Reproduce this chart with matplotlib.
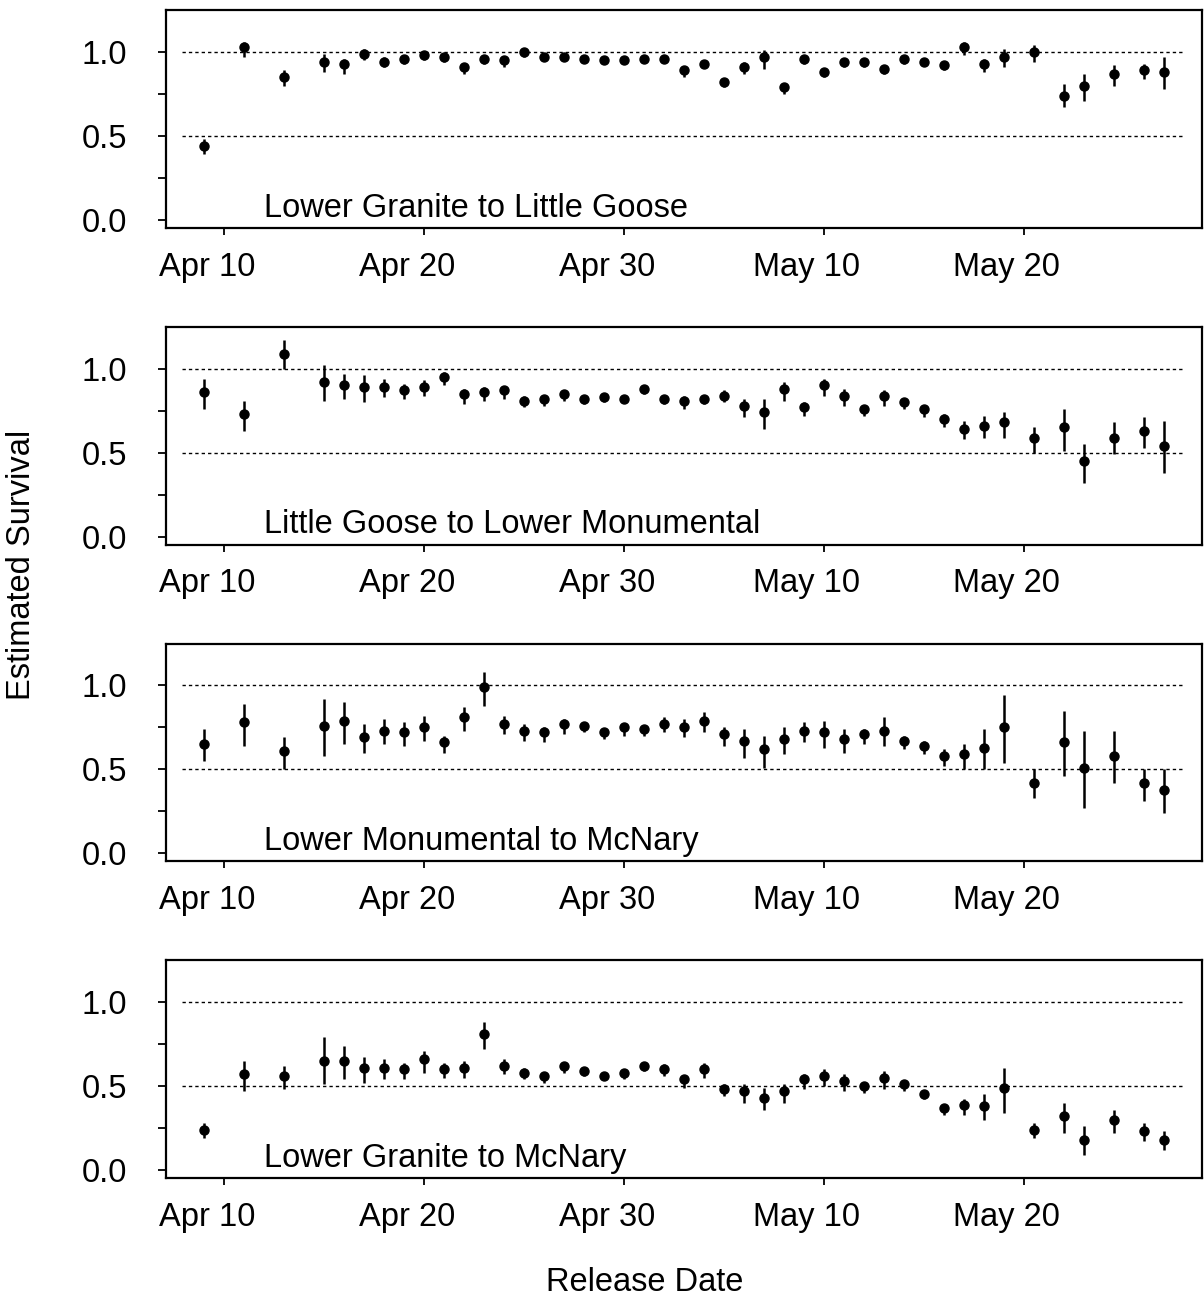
import matplotlib
matplotlib.use("Agg")
import matplotlib.pyplot as plt

plt.rcParams['font.family'] = ['Liberation Sans', 'DejaVu Sans']
plt.rcParams['lines.scale_dashes'] = False

# release day, counted from April 1 (May 10 = 40)
days = [9, 11, 13, 15, 16, 17, 18, 19, 20, 21, 22, 23, 24, 25, 26, 27, 28, 29, 30, 31, 32,
        33, 34, 35, 36, 37, 38, 39, 40, 41, 42, 43, 44, 45, 46, 47, 48, 49, 50.5, 52, 53, 54.5, 56, 57]

tick_days = [10, 20, 30, 40, 50]
tick_labels = ['Apr 10', 'Apr 20', 'Apr 30', 'May 10', 'May 20']

# Lower Granite to Little Goose
lgr_lgo_est = [0.44, 1.03, 0.85, 0.94, 0.93, 0.99, 0.94, 0.96, 0.98, 0.97, 0.91, 0.96, 0.95, 1.00, 0.97,
               0.97, 0.96, 0.95, 0.95, 0.96, 0.96, 0.89, 0.93, 0.82, 0.91, 0.97, 0.79, 0.96, 0.88, 0.94,
               0.94, 0.90, 0.96, 0.94, 0.92, 1.03, 0.93, 0.97, 1.00, 0.74, 0.80, 0.87, 0.89, 0.88]
lgr_lgo_lo = [0.39, 0.97, 0.80, 0.88, 0.87, 0.95, 0.91, 0.93, 0.95, 0.94, 0.87, 0.93, 0.91, 0.97, 0.95,
              0.95, 0.94, 0.93, 0.93, 0.94, 0.94, 0.85, 0.91, 0.79, 0.87, 0.90, 0.75, 0.93, 0.85, 0.91,
              0.91, 0.87, 0.93, 0.92, 0.89, 0.98, 0.88, 0.91, 0.94, 0.67, 0.71, 0.80, 0.84, 0.78]
lgr_lgo_hi = [0.48, 1.06, 0.89, 0.99, 0.96, 1.02, 0.97, 0.98, 1.00, 0.99, 0.93, 0.98, 0.97, 1.02, 0.99,
              0.99, 0.98, 0.97, 0.97, 0.98, 0.98, 0.91, 0.95, 0.84, 0.94, 1.01, 0.81, 0.97, 0.90, 0.96,
              0.96, 0.92, 0.97, 0.96, 0.94, 1.06, 0.96, 1.02, 1.04, 0.81, 0.87, 0.92, 0.93, 0.97]

# Little Goose to Lower Monumental
lgo_lmn_est = [0.86, 0.73, 1.09, 0.92, 0.90, 0.89, 0.89, 0.87, 0.89, 0.95, 0.85, 0.86, 0.87, 0.81, 0.82,
               0.85, 0.82, 0.83, 0.82, 0.88, 0.82, 0.81, 0.82, 0.84, 0.78, 0.74, 0.88, 0.77, 0.90, 0.84,
               0.76, 0.84, 0.80, 0.76, 0.70, 0.64, 0.66, 0.68, 0.59, 0.65, 0.45, 0.59, 0.63, 0.54]
lgo_lmn_lo = [0.76, 0.63, 1.00, 0.81, 0.82, 0.80, 0.83, 0.82, 0.84, 0.90, 0.79, 0.81, 0.82, 0.77, 0.78,
              0.81, 0.79, 0.80, 0.80, 0.85, 0.79, 0.76, 0.79, 0.80, 0.71, 0.64, 0.81, 0.72, 0.84, 0.78,
              0.72, 0.78, 0.76, 0.71, 0.65, 0.58, 0.59, 0.59, 0.50, 0.51, 0.32, 0.49, 0.53, 0.38]
lgo_lmn_hi = [0.94, 0.81, 1.17, 1.02, 0.97, 0.96, 0.94, 0.91, 0.93, 0.98, 0.88, 0.89, 0.89, 0.84, 0.84,
              0.87, 0.84, 0.85, 0.84, 0.90, 0.84, 0.84, 0.84, 0.87, 0.82, 0.82, 0.92, 0.80, 0.94, 0.88,
              0.78, 0.87, 0.82, 0.78, 0.73, 0.69, 0.72, 0.74, 0.65, 0.76, 0.55, 0.68, 0.71, 0.69]

# Lower Monumental to McNary
lmn_mcn_est = [0.65, 0.78, 0.61, 0.76, 0.79, 0.69, 0.73, 0.72, 0.75, 0.66, 0.81, 0.99, 0.77, 0.73, 0.72,
               0.77, 0.76, 0.72, 0.75, 0.74, 0.77, 0.75, 0.79, 0.71, 0.67, 0.62, 0.68, 0.73, 0.72, 0.68,
               0.71, 0.73, 0.67, 0.64, 0.58, 0.59, 0.63, 0.75, 0.42, 0.66, 0.51, 0.58, 0.42, 0.38]
lmn_mcn_lo = [0.55, 0.64, 0.50, 0.58, 0.65, 0.60, 0.65, 0.64, 0.67, 0.60, 0.73, 0.88, 0.71, 0.67, 0.66,
              0.71, 0.72, 0.68, 0.70, 0.70, 0.72, 0.69, 0.72, 0.64, 0.57, 0.51, 0.59, 0.66, 0.63, 0.60,
              0.65, 0.64, 0.62, 0.59, 0.52, 0.50, 0.50, 0.54, 0.33, 0.46, 0.27, 0.42, 0.31, 0.24]
lmn_mcn_hi = [0.74, 0.89, 0.69, 0.92, 0.90, 0.77, 0.80, 0.78, 0.82, 0.70, 0.87, 1.08, 0.82, 0.77, 0.75,
              0.80, 0.78, 0.74, 0.77, 0.76, 0.81, 0.80, 0.84, 0.75, 0.74, 0.70, 0.75, 0.78, 0.79, 0.74,
              0.74, 0.81, 0.70, 0.67, 0.62, 0.65, 0.74, 0.94, 0.50, 0.85, 0.73, 0.73, 0.50, 0.50]

# Lower Granite to McNary
lgr_mcn_est = [0.24, 0.57, 0.56, 0.65, 0.65, 0.61, 0.61, 0.60, 0.66, 0.60, 0.61, 0.81, 0.62, 0.58, 0.56,
               0.62, 0.59, 0.56, 0.58, 0.62, 0.60, 0.54, 0.60, 0.48, 0.47, 0.43, 0.47, 0.54, 0.56, 0.53,
               0.50, 0.55, 0.51, 0.45, 0.37, 0.39, 0.38, 0.49, 0.24, 0.32, 0.18, 0.30, 0.23, 0.18]
lgr_mcn_lo = [0.19, 0.47, 0.48, 0.51, 0.54, 0.52, 0.54, 0.54, 0.58, 0.55, 0.55, 0.72, 0.57, 0.54, 0.52,
              0.58, 0.56, 0.54, 0.54, 0.59, 0.56, 0.49, 0.55, 0.44, 0.40, 0.36, 0.40, 0.48, 0.50, 0.47,
              0.46, 0.48, 0.47, 0.42, 0.33, 0.33, 0.30, 0.34, 0.19, 0.22, 0.09, 0.22, 0.17, 0.12]
lgr_mcn_hi = [0.28, 0.65, 0.62, 0.79, 0.74, 0.67, 0.66, 0.64, 0.71, 0.64, 0.65, 0.88, 0.66, 0.61, 0.58,
              0.64, 0.61, 0.58, 0.60, 0.64, 0.63, 0.56, 0.64, 0.51, 0.51, 0.49, 0.51, 0.57, 0.60, 0.57,
              0.52, 0.59, 0.53, 0.47, 0.39, 0.42, 0.45, 0.61, 0.28, 0.40, 0.26, 0.36, 0.28, 0.23]

reaches = ['Lower Granite to Little Goose', 'Little Goose to Lower Monumental',
           'Lower Monumental to McNary', 'Lower Granite to McNary']
est = [lgr_lgo_est, lgo_lmn_est, lmn_mcn_est, lgr_mcn_est]
lo = [lgr_lgo_lo, lgo_lmn_lo, lmn_mcn_lo, lgr_mcn_lo]
hi = [lgr_lgo_hi, lgo_lmn_hi, lmn_mcn_hi, lgr_mcn_hi]

W, H = 1204, 1297
fig = plt.figure(figsize=(W / 100, H / 100), dpi=100)
fs = 23.5

# date labels sit a bit left of their tick marks in the original
label_days = [d - 0.85 for d in tick_days]

for i in range(4):
    top = 10.3 + 316.7 * i
    ax = fig.add_axes([166 / W, 1 - (top + 217.7) / H, 1036 / W, 217.7 / H])
    yerr = [[e - l for e, l in zip(est[i], lo[i])], [h - e for e, h in zip(est[i], hi[i])]]
    ax.hlines([0.5, 1.0], 7.9, 57.9, colors='black', linewidth=1.0, linestyles=[(0, (2.4, 2.2))])
    ax.errorbar(days, est[i], yerr=yerr, fmt='o', color='black', markersize=6.5,
                elinewidth=1.8, capsize=0)
    ax.set_xlim(7.08, 58.92)
    ax.set_ylim(-0.048, 1.248)
    ax.set_yticks([0, 0.25, 0.5, 0.75, 1.0])
    ax.set_yticklabels(['0.0', '', '0.5', '', '1.0'])
    ax.set_xticks(tick_days)
    ax.set_xticklabels([])
    ax.set_xticks(label_days, tick_labels, minor=True)
    ax.tick_params(axis='y', length=6, width=1.3, pad=22, labelsize=fs)
    ax.tick_params(axis='x', which='major', length=5, width=1.3)
    ax.tick_params(axis='x', which='minor', length=0, pad=17, labelsize=fs)
    for s in ax.spines.values():
        s.set_linewidth(1.6)
    ax.text(12, 0.02, reaches[i], fontsize=fs, ha='left', va='baseline')

fig.text(22 / W, 1 - 565 / H, 'Estimated Survival', rotation=90, fontsize=fs,
         ha='center', va='center')
fig.text(645 / W, 1 - 1291 / H, 'Release Date', fontsize=fs, ha='center', va='baseline')

fig.savefig('out.png', dpi=100)
